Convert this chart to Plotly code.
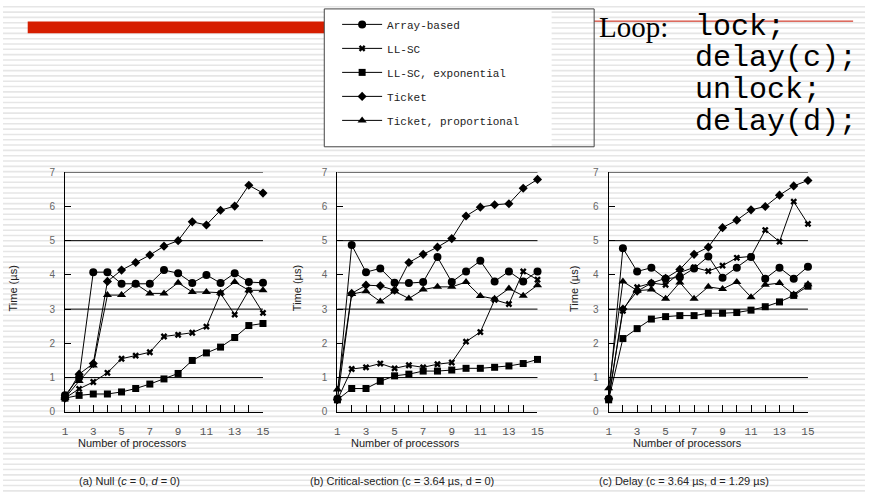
import plotly.graph_objects as go

W, H = 872, 497

processors = list(range(1, 16))
series_names = ["Array-based", "LL-SC", "LL-SC, exponential", "Ticket", "Ticket, proportional"]
symbols = ["circle", "x", "square", "diamond", "triangle-up"]
msizes = [8, 6, 7, 7, 8]

# (a) Null
null_array = [0.48, 1.0, 4.08, 4.08, 3.74, 3.74, 3.74, 4.14, 4.05, 3.76, 4.0, 3.76, 4.05, 3.79, 3.77]
null_llsc = [0.4, 0.67, 0.87, 1.14, 1.55, 1.64, 1.74, 2.2, 2.25, 2.31, 2.49, 3.46, 2.84, 3.55, 2.89]
null_llsc_exp = [0.4, 0.48, 0.52, 0.52, 0.58, 0.68, 0.81, 0.96, 1.12, 1.5, 1.72, 1.89, 2.17, 2.52, 2.58]
null_ticket = [0.4, 1.1, 1.41, 3.81, 4.14, 4.36, 4.58, 4.84, 5.0, 5.55, 5.46, 5.89, 6.01, 6.62, 6.39]
null_ticket_prop = [0.4, 0.9, 1.35, 3.41, 3.41, 3.74, 3.46, 3.46, 3.77, 3.5, 3.5, 3.48, 3.79, 3.55, 3.55]

# (b) Critical-section
cs_array = [0.38, 4.87, 4.08, 4.19, 3.77, 3.76, 3.79, 4.52, 3.79, 4.1, 4.41, 3.81, 4.1, 3.81, 4.1]
cs_llsc = [0.35, 1.25, 1.3, 1.41, 1.27, 1.36, 1.3, 1.39, 1.44, 2.05, 2.33, 3.27, 3.15, 4.1, 3.86]
cs_llsc_exp = [0.35, 0.68, 0.68, 0.89, 1.05, 1.1, 1.19, 1.19, 1.22, 1.27, 1.27, 1.3, 1.34, 1.41, 1.53]
cs_ticket = [0.35, 3.46, 3.7, 3.68, 3.55, 4.36, 4.6, 4.81, 5.06, 5.72, 5.98, 6.05, 6.08, 6.53, 6.79]
cs_ticket_prop = [0.65, 3.44, 3.52, 3.22, 3.52, 3.31, 3.57, 3.65, 3.65, 3.79, 3.38, 3.3, 3.6, 3.39, 3.7]

# (c) Delay
d_array = [0.38, 4.78, 4.1, 4.21, 3.89, 3.93, 4.19, 4.54, 3.92, 4.21, 4.52, 3.89, 4.21, 3.89, 4.24]
d_llsc = [0.38, 2.95, 3.64, 3.76, 3.71, 4.07, 4.22, 4.11, 4.27, 4.5, 4.54, 5.31, 4.97, 6.14, 5.49]
d_llsc_exp = [0.35, 2.14, 2.43, 2.71, 2.78, 2.81, 2.81, 2.88, 2.88, 2.9, 2.97, 3.07, 3.21, 3.4, 3.67]
d_ticket = [0.38, 3.0, 3.52, 3.76, 3.9, 4.16, 4.6, 4.81, 5.38, 5.6, 5.9, 6.0, 6.33, 6.6, 6.76]
d_ticket_prop = [0.69, 3.81, 3.54, 3.57, 3.3, 3.78, 3.3, 3.65, 3.59, 3.79, 3.35, 3.71, 3.76, 3.43, 3.73]

panels = [
    [null_array, null_llsc, null_llsc_exp, null_ticket, null_ticket_prop],
    [cs_array, cs_llsc, cs_llsc_exp, cs_ticket, cs_ticket_prop],
    [d_array, d_llsc, d_llsc_exp, d_ticket, d_ticket_prop],
]

x_ticklabels = ["1", "", "3", "", "5", "", "7", "", "9", "", "11", "", "13", "", "15"]
y_ticks = [0, 1, 2, 3, 4, 5, 6, 7]
grid_values = [1, 3, 5, 7]

captions = ["(a) Null (<i>c</i> = 0, <i>d</i> = 0)",
            "(b) Critical-section (c = 3.64 µs, d = 0)",
            "(c) Delay (c = 3.64 µs, d = 1.29 µs)"]
code_lines = ["lock;", "delay(c);", "unlock;", "delay(d);"]


def px(x):
    return x / W


def py(y):
    return 1 - y / H


panel_x = [(62.7, 263.0), (338.3, 540.7), (612.7, 814.3)]
y_top, y_bot = 171.0, 416.0
caption_cx = [128, 404, 689]
ytitle_x = [10, 297, 577]

fig = go.Figure()

shapes = []
# striped slide background
y = 1.8
while y < H:
    shapes.append(dict(type="line", xref="paper", yref="paper", x0=0, x1=1, y0=py(y), y1=py(y),
                       line=dict(color="#e6e6e6", width=1.6), layer="below"))
    y += 5.44

for p, data in enumerate(panels):
    xa = "x" if p == 0 else f"x{p+1}"
    ya = "y" if p == 0 else f"y{p+1}"
    for s, vals in enumerate(data):
        fig.add_trace(go.Scatter(
            x=processors, y=vals, mode="lines+markers", name=series_names[s],
            legendgroup=series_names[s], showlegend=(p == 0),
            line=dict(color="black", width=1),
            marker=dict(symbol=symbols[s], size=msizes[s], color="black",
                        line=dict(width=0, color="black")),
            cliponaxis=False, xaxis=xa, yaxis=ya, hoverinfo="x+y+name"))
    axis_suffix = "" if p == 0 else str(p + 1)
    x0, x1 = panel_x[p]
    fig.layout["xaxis" + axis_suffix] = dict(
        domain=[px(x0), px(x1)], range=[1, 15], anchor=ya,
        tickvals=processors, ticktext=x_ticklabels, ticks="inside", ticklen=7,
        tickcolor="black", tickwidth=1, showline=True, linecolor="black", linewidth=1,
        showgrid=False, zeroline=False, ticklabelstandoff=9,
        tickfont=dict(family="Liberation Mono", size=11, color="#555"))
    fig.layout["yaxis" + axis_suffix] = dict(
        domain=[py(y_bot), py(y_top)], range=[0, 7], anchor=xa,
        tickvals=y_ticks, ticks="inside", ticklen=6, tickcolor="black", tickwidth=1,
        showline=True, linecolor="black", linewidth=1, showgrid=False, zeroline=False,
        ticklabelstandoff=7,
        tickfont=dict(family="Liberation Sans", size=10, color="#666"))
    for g in grid_values:
        shapes.append(dict(type="line", xref=f"{xa} domain", yref=ya, x0=0, x1=1, y0=g, y1=g,
                           line=dict(color="black", width=1), layer="below"))

# red title bar and red rule
shapes.append(dict(type="rect", xref="paper", yref="paper", x0=px(25), x1=px(325),
                   y0=py(29), y1=py(17), fillcolor="#d61e00", line=dict(width=0), layer="below"))
shapes.append(dict(type="line", xref="paper", yref="paper", x0=px(598), x1=px(860),
                   y0=py(16.5), y1=py(16.5), line=dict(color="#c81400", width=1), layer="below"))
# legend box
shapes.append(dict(type="rect", xref="paper", yref="paper", x0=px(325), x1=px(555),
                   y0=py(145), y1=py(4), fillcolor="white", line=dict(width=0), layer="below"))
shapes.append(dict(type="rect", xref="paper", yref="paper", x0=px(325), x1=px(598),
                   y0=py(145), y1=py(4), fillcolor="rgba(0,0,0,0)",
                   line=dict(color="#444", width=1), layer="below"))

annotations = []
narrow = "Liberation Sans Narrow, Liberation Sans, Arial"


def note(text, x, y, size, family, **kw):
    d = dict(text=text, xref="paper", yref="paper", x=px(x), y=py(y), showarrow=False,
             xanchor="center", yanchor="middle",
             font=dict(family=family, size=size, color=kw.pop("color", "#222")))
    d.update(kw)
    annotations.append(d)


for p in range(3):
    note("Number of processors", caption_cx[p] + 3, 448, 11, narrow)
    note(captions[p], caption_cx[p], 487, 11, narrow)
    note("Time (µs)", ytitle_x[p], 290, 11, narrow, textangle=-90)

note("Loop:", 601, 22, 29, "Liberation Serif", color="black", xanchor="left")
line_y = [22, 54.5, 87, 120]
for t, yy in zip(code_lines, line_y):
    note(t, 698, yy, 30, "Liberation Mono", color="black", xanchor="left")

fig.update_layout(
    width=W, height=H, margin=dict(l=0, r=0, t=0, b=0),
    paper_bgcolor="white", plot_bgcolor="rgba(0,0,0,0)",
    shapes=shapes, annotations=annotations,
    legend=dict(x=px(338), y=py(5), xanchor="left", yanchor="top",
                bgcolor="rgba(0,0,0,0)", borderwidth=0, traceorder="grouped",
                tracegroupgap=5, itemwidth=40,
                font=dict(family="Liberation Mono", size=11, color="#222")),
    showlegend=True,
)

fig.write_html("out.html", config={"displayModeBar": False},
               post_script="document.body.style.margin='0';document.body.style.overflow='hidden';")
